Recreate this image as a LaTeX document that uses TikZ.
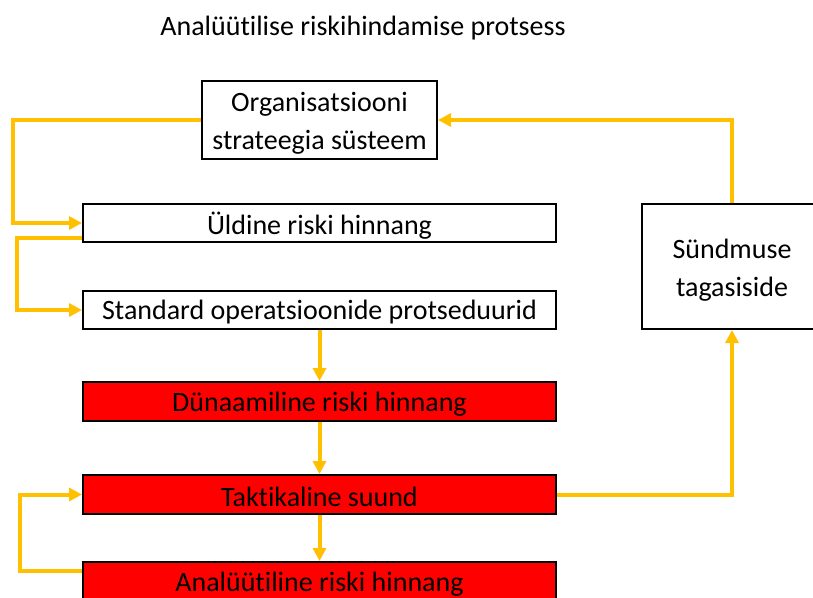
\documentclass[tikz,border=0pt]{standalone}
\usepackage{fontspec}
\setmainfont[Ligatures={NoCommon}]{Carlito}
\usetikzlibrary{arrows.meta}
\definecolor{arr}{HTML}{FFC000}
\definecolor{redfill}{HTML}{FF0000}
\tikzset{
  box/.style={draw=black, line width=2pt, inner sep=0pt},
  widebox/.style={box, minimum width=473pt, minimum height=38pt},
  redbox/.style={widebox, fill=redfill, minimum height=39pt},
  txt/.style={inner sep=0pt, font=\fontsize{28}{38}\selectfont, align=center},
  flow/.style={draw=arr, line width=4pt, -{Triangle[length=13pt,width=13pt]}},
}
\begin{document}
\begin{tikzpicture}[x=1pt,y=-1pt]
\useasboundingbox (0,0) rectangle (813,597);
\clip (0,0) rectangle (813,597);
\node[txt] (title) at (363,28) {Analüütilise riskihindamise protsess};
\node[box, minimum width=235pt, minimum height=78pt] (org) at (319.5,120) {};
\node[widebox] (uld) at (319.5,223) {};
\node[widebox] (std) at (319.5,310) {};
\node[redbox] (dyn) at (319.5,401.5) {};
\node[redbox] (tak) at (319.5,494.5) {};
\node[redbox] (ana) at (319.5,581.5) {};
\node[box, minimum width=180pt, minimum height=125pt] (snd) at (732,266.5) {};
\node[txt] (torg) at ([yshift=-3.5pt]org.center) {Organisatsiooni\\strateegia süsteem};
\node[txt] (tuld) at ([yshift=-2.5pt]uld.center) {Üldine riski hinnang};
\node[txt] (tstd) at ([yshift=-2.5pt]std.center) {Standard operatsioonide protseduurid};
\node[txt] (tdyn) at ([yshift=-2.5pt]dyn.center) {Dünaamiline riski hinnang};
\node[txt] (ttak) at ([yshift=-2.5pt]tak.center) {Taktikaline suund};
\node[txt] (tana) at ([yshift=-2.5pt]ana.center) {Analüütiline riski hinnang};
\node[txt] (tsnd) at ([yshift=-4pt]snd.center) {Sündmuse\\tagasiside};
\coordinate (c1) at (13,0);
\coordinate (c2) at (17,0);
\coordinate (c3) at (20,0);
\coordinate (uo) at ([yshift=5pt]uld.south west);
\coordinate (ao) at ([yshift=-10pt]ana.north west);
\draw[flow] (org.west) -- (c1 |- org.west) |- (uld.west);
\draw[flow] (uo) -- (c2 |- uo) |- (std.west);
\draw[flow] (std.south) -- (dyn.north);
\draw[flow] (dyn.south) -- (tak.north);
\draw[flow] (tak.south) -- (ana.north);
\draw[flow] (ao) -- (c3 |- ao) |- (tak.west);
\draw[flow] (tak.east) -| (snd.south);
\draw[flow] (snd.north) |- (org.east);
\end{tikzpicture}
\end{document}
